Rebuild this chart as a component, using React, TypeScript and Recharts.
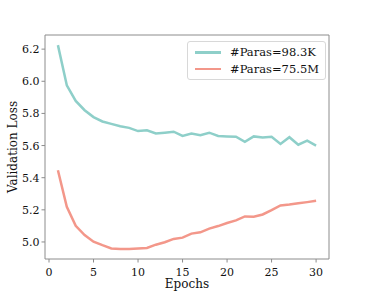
import React from "react";
import { LineChart, Line, XAxis, YAxis } from "recharts";

const epochs = [1, 2, 3, 4, 5, 6, 7, 8, 9, 10, 11, 12, 13, 14, 15, 16, 17, 18, 19, 20, 21, 22, 23, 24, 25, 26, 27, 28, 29, 30];
const lossSmall = [6.225, 5.975, 5.878, 5.82, 5.777, 5.75, 5.735, 5.72, 5.71, 5.69, 5.695, 5.675, 5.68, 5.686, 5.66,
  5.675, 5.665, 5.68, 5.66, 5.657, 5.655, 5.623, 5.657, 5.65, 5.655, 5.61, 5.652, 5.605, 5.63, 5.6];
const lossLarge = [5.446, 5.219, 5.1, 5.043, 5.002, 4.98, 4.96, 4.957, 4.957, 4.96, 4.963, 4.983, 4.998, 5.019, 5.027,
  5.052, 5.06, 5.083, 5.099, 5.118, 5.134, 5.159, 5.157, 5.171, 5.198, 5.227, 5.233, 5.241, 5.248, 5.256];
const xTicks = [0, 5, 10, 15, 20, 25, 30];
const yTicks = [5.0, 5.2, 5.4, 5.6, 5.8, 6.0, 6.2];
const seriesNames = ["#Paras=98.3K", "#Paras=75.5M"];

const TEAL = "#8ECFC9";
const SALMON = "#F3978A";
const SPINE = "#8c8c8c";
const FONT = "'DejaVu Serif', serif";

const data = epochs.map((e, i) => ({ epoch: e, small: lossSmall[i], large: lossLarge[i] }));

// serif tick labels, drawn by hand so the font sticks
function XTick({ x, y, payload }: any) {
  return (
    <text x={x} y={y + 11} textAnchor="middle" fontSize={11} fill="#111" style={{ fontFamily: FONT }}>
      {payload.value}
    </text>
  );
}
function YTick({ x, y, payload }: any) {
  return (
    <text x={x} y={y + 4} textAnchor="end" fontSize={11} fill="#111" style={{ fontFamily: FONT }}>
      {Number(payload.value).toFixed(1)}
    </text>
  );
}

function LegendBox() {
  const items = [{ name: seriesNames[0], color: TEAL }, { name: seriesNames[1], color: SALMON }];
  return (
    <div style={{
      position: "absolute", left: 187, top: 41,
      border: "1px solid #d8d8d8", borderRadius: 3, background: "rgba(255,255,255,0.8)",
      padding: "2px 6px 2px 7px", fontFamily: FONT, fontSize: 11.5, color: "#111",
    }}>
      {items.map((it) => (
        <div key={it.name} style={{ display: "flex", alignItems: "center", height: 16.5 }}>
          <div style={{ width: 26, height: 2.5, background: it.color, marginRight: 9 }} />
          <span>{it.name}</span>
        </div>
      ))}
    </div>
  );
}

export default function App() {
  return (
    <div style={{ position: "absolute", left: 0, top: 0, width: 366, height: 292, background: "#fff", fontFamily: FONT }}>
      <LineChart width={366} height={292} data={data} margin={{ top: 34, right: 36, bottom: 0, left: 0 }}>
        <XAxis dataKey="epoch" type="number" domain={[-0.45, 31.45]} ticks={xTicks} allowDataOverflow
          height={33} tick={<XTick />} tickSize={3.5} tickMargin={2}
          axisLine={{ stroke: SPINE }} tickLine={{ stroke: SPINE }}
          label={{ value: "Epochs", position: "insideBottom", offset: 4, style: { fontSize: 12, fill: "#111", fontFamily: FONT } }} />
        <XAxis xAxisId="top" orientation="top" dataKey="epoch" type="number" domain={[-0.45, 31.45]} height={1}
          tick={false} tickLine={false} axisLine={{ stroke: SPINE }} />
        <YAxis type="number" domain={[4.894, 6.288]} ticks={yTicks} allowDataOverflow width={45}
          tick={<YTick />} tickSize={3.5} tickMargin={2}
          axisLine={{ stroke: SPINE }} tickLine={{ stroke: SPINE }}
          label={{ value: "Validation Loss", angle: -90, position: "insideLeft", offset: 13, style: { fontSize: 12, fill: "#111", fontFamily: FONT, textAnchor: "middle" } }} />
        <YAxis yAxisId="right" orientation="right" type="number" domain={[4.894, 6.288]} width={1}
          tick={false} tickLine={false} axisLine={{ stroke: SPINE }} />
        <Line dataKey="small" name={seriesNames[0]} stroke={TEAL} strokeWidth={2.5} dot={false} isAnimationActive={false} />
        <Line dataKey="large" name={seriesNames[1]} stroke={SALMON} strokeWidth={2.5} dot={false} isAnimationActive={false} />
      </LineChart>
      <LegendBox />
    </div>
  );
}
